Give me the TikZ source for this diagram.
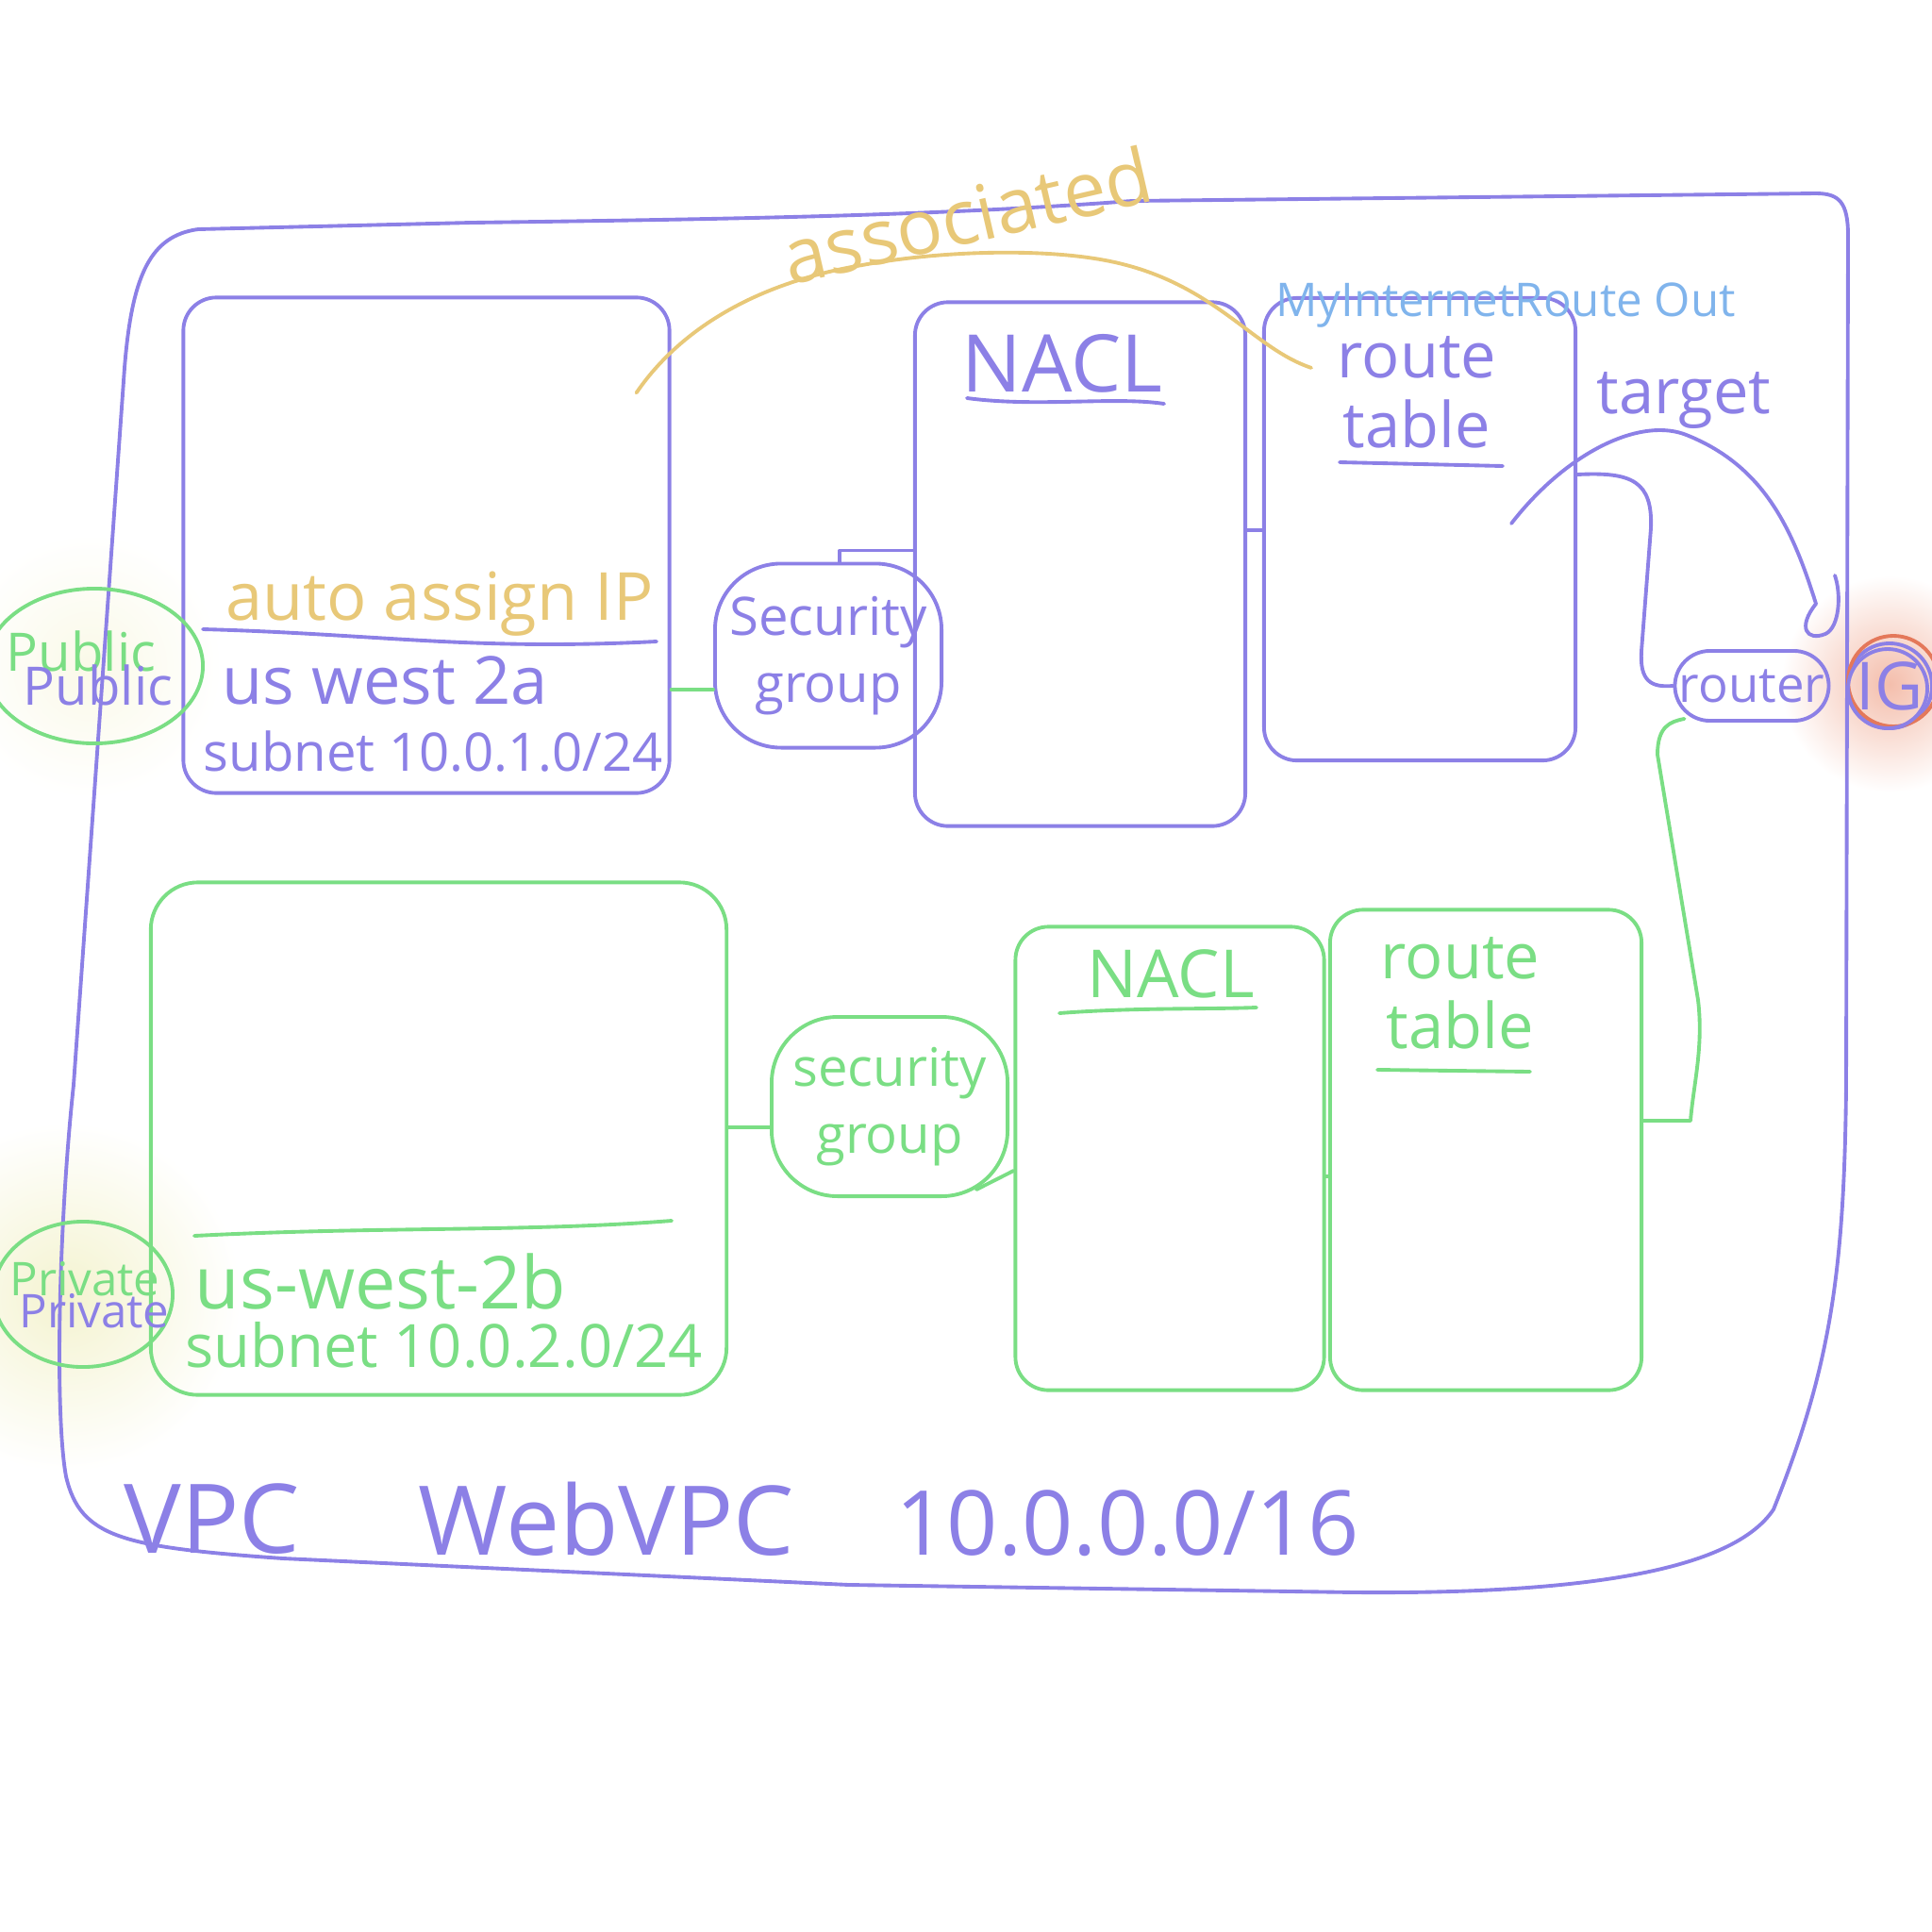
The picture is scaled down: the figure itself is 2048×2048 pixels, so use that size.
\documentclass[tikz,border=0pt]{standalone}
\usepackage{fontspec}
\setmainfont{Open Sans}
\usetikzlibrary{calc,shapes.geometric}

\definecolor{pen}{RGB}{140,128,230}
\definecolor{leaf}{RGB}{122,222,132}
\definecolor{sand}{RGB}{232,200,120}
\definecolor{sky}{RGB}{128,180,236}
\definecolor{ember}{RGB}{228,120,90}
\definecolor{emberglow}{RGB}{244,190,172}
\definecolor{ivory}{RGB}{244,243,208}
\definecolor{ivorylight}{RGB}{250,249,232}

\tikzset{
  ink/.style={line width=1.1pt, line cap=round, line join=round},
  pbox/.style={ink, draw=pen, rounded corners=0.35cm, inner sep=0pt},
  gbox/.style={ink, draw=leaf, rounded corners=0.35cm, inner sep=0pt},
  lbl/.style={inner sep=0pt, anchor=center},
  hw/.style={font=\fontsize{#1}{#1}\selectfont}
}

\begin{document}
\begin{tikzpicture}[x=0.01cm, y=-0.01cm]
\useasboundingbox (0,0) rectangle (2048,2048);

% soft glows behind the tags and the gateway
\shade[inner color=ivorylight, outer color=white] (95,706) circle (140);
\shade[inner color=ivory, outer color=white] (70,1375) circle (185);
\shade[inner color=emberglow, outer color=white] (2003,725) circle (115);

% VPC outline
\draw[ink, pen] (210,243) .. controls (160,250) and (140,290) .. (132,390)
  -- (78,1150) .. controls (62,1300) and (58,1500) .. (70,1565)
  .. controls (85,1630) and (130,1640) .. (300,1652) -- (900,1680) -- (1437,1688)
  .. controls (1700,1690) and (1840,1660) .. (1880,1600)
  .. controls (1940,1450) and (1955,1350) .. (1957,1150) -- (1959,250)
  .. controls (1959,215) and (1950,205) .. (1925,205) -- (1200,213)
  .. controls (1000,228) and (800,232) .. (500,236) -- cycle;

% VPC caption
\node[lbl, hw=29, text=pen] (vpcword) at (225,1610) {VPC};
\node[lbl, hw=29, text=pen] (vpcname) at (643,1610) {WebVPC};
\node[lbl, hw=27, text=pen] (vpccidr) at (1195,1615) {10.0.0.0/16};

% ---------- public subnet ----------
\node[pbox, minimum width=5.15cm, minimum height=5.25cm] (pubnet) at (452,578) {};
\draw[ink, pen] (215,667) .. controls (400,672) and (500,690) .. (696,680);
\node[lbl, hw=20, text=sand] (autoip) at (466,640) {auto assign IP};
\node[lbl, hw=20, text=pen, anchor=west] (zone1) at (235,721) {us west 2a};
\node[lbl, hw=16, text=pen, anchor=west] (cidr1) at (215,797) {subnet 10.0.1.0/24};

\node[ink, draw=leaf, ellipse, minimum width=2.3cm, minimum height=1.64cm, inner sep=0pt] (pubtag) at (100,706) {};
\node[lbl, hw=16, text=leaf] (pubtxtg) at (86,690) {Public};
\node[lbl, hw=16, text=pen] (pubtxtp) at (104,726) {Public};

\node[pbox, rounded corners=0.7cm, minimum width=2.4cm, minimum height=1.95cm,
      align=center, hw=16, text=pen] (sg1) at (878,695) {Security\\[4pt]group};

\node[pbox, minimum width=3.5cm, minimum height=5.55cm] (nacl1) at (1145,598) {};
\node[lbl, hw=24, text=pen] (nacl1t) at (1126,385) {NACL};
\draw[ink, pen] (1025,422) .. controls (1100,432) and (1180,420) .. (1234,428);

\node[pbox, minimum width=3.3cm, minimum height=4.9cm] (rt1) at (1505,561) {};
\node[lbl, hw=19, text=pen, align=center] (rt1t) at (1502,416) {route\\[2pt]table};
\draw[ink, pen] (1420,490) -- (1593,494);
\node[lbl, hw=14, text=sky] (rtname) at (1596,324) {MyInternetRoute Out};
\node[lbl, hw=19, text=pen] (tgt) at (1785,424) {target};

% router and internet gateway
\node[ink, draw=pen, rounded corners=0.37cm, minimum width=1.63cm, minimum height=0.74cm,
      inner sep=0pt, hw=15, text=pen] (router) at (1857,727) {router};
\node[ink, draw=pen, circle, minimum size=0.9cm, inner sep=0pt, hw=20, text=pen] (ig) at (2003,727) {IG};
\draw[ink, ember] ($(ig.center)+(4,-5)$) circle (48);
\draw[ink, pen] ($(ig.center)+(-2,3)$) circle (42);

% ---------- private subnet ----------
\node[gbox, rounded corners=0.5cm, minimum width=6.1cm, minimum height=5.43cm] (privnet) at (465,1207) {};
\draw[ink, leaf] (206,1310) .. controls (400,1300) and (560,1306) .. (712,1294);
\node[lbl, hw=22, text=leaf, anchor=west] (zone2) at (206,1358) {us-west-2b};
\node[lbl, hw=18, text=leaf, anchor=west] (cidr2) at (196,1426) {subnet 10.0.2.0/24};

\node[ink, draw=leaf, ellipse, minimum width=1.9cm, minimum height=1.54cm, inner sep=0pt] (privtag) at (88,1372) {};
\node[lbl, hw=14, text=leaf] (privtxtg) at (90,1356) {Private};
\node[lbl, hw=14, text=pen] (privtxtp) at (100,1390) {Private};

\node[gbox, rounded corners=0.7cm, minimum width=2.5cm, minimum height=1.9cm,
      align=center, hw=16, text=leaf] (sg2) at (943,1173) {security\\[4pt]group};

\node[gbox, minimum width=3.27cm, minimum height=4.91cm] (nacl2) at (1240,1228) {};
\node[lbl, hw=20, text=leaf] (nacl2t) at (1241,1032) {NACL};
\draw[ink, leaf] (1123,1074) .. controls (1200,1068) and (1280,1070) .. (1332,1068);

\node[gbox, minimum width=3.3cm, minimum height=5.09cm] (rt2) at (1575,1219) {};
\node[lbl, hw=19, text=leaf, align=center] (rt2t) at (1548,1053) {route\\[2pt]table};
\draw[ink, leaf] (1460,1134) -- (1622,1136);

% ---------- connectors ----------
\coordinate (pubout) at ($(pubnet.east)+(0,153)$);
\draw[ink, leaf] (pubout) -- (pubout -| sg1.west);

\coordinate (sg1out) at ($(sg1.north)+(12,0)$);
\coordinate (sg1hook) at ($(sg1out)+(0,-12)$);
\draw[ink, pen] (sg1out) -- (sg1hook) -- (sg1hook -| nacl1.west);

\coordinate (n1out) at ($(nacl1.east)+(0,-36)$);
\draw[ink, pen] (n1out) -- (n1out -| rt1.west);

\coordinate (rt1out) at ($(rt1.east)+(0,-58)$);
\draw[ink, pen] (rt1out) .. controls (1730,500) and (1752,510) .. (1750,560)
  -- (1740,690) .. controls (1738,722) and (1750,729) .. (router.west);

\coordinate (tgtstart) at ($(rt1.east)+(-70,-6)$);
\coordinate (tgtend) at ($(ig.center)+(-78,-87)$);
\draw[ink, pen] (tgtstart) .. controls (1660,480) and (1740,440) .. (1790,462)
  .. controls (1870,495) and (1900,560) .. (tgtend)
  .. controls (1905,665) and (1915,680) .. (1935,672)
  .. controls (1950,665) and (1952,630) .. (1945,610);

\coordinate (routerdown) at ($(router.south west)+(12,-4)$);
\coordinate (rt2in) at ($(rt2.east)+(0,-31)$);
\draw[ink, leaf] (routerdown) .. controls (1770,765) and (1757,770) .. (1757,800)
  -- (1800,1060) .. controls (1806,1110) and (1795,1150) .. (1792,1188) -- (rt2in);

\coordinate (privout) at ($(privnet.east)+(0,-12)$);
\draw[ink, leaf] (privout) -- (privout -| sg2.west);

\coordinate (sg2out) at ($(sg2.south east)+(-35,-9)$);
\draw[ink, leaf] (sg2out) -- ($(nacl2.west)+(0,13)$);

\coordinate (n2out) at ($(nacl2.east)+(0,19)$);
\draw[ink, leaf] (n2out) -- (n2out -| rt2.west);

% association between the public subnet and the route table
\coordinate (asA) at ($(pubnet.north east)+(-37,103)$);
\coordinate (asB) at ($(rt1.north west)+(52,76)$);
\draw[ink, sand] (asA) .. controls (720,350) and (800,300) .. (914,281)
  .. controls (1000,265) and (1120,262) .. (1190,280)
  .. controls (1290,305) and (1330,370) .. (asB);
\node[lbl, hw=23, text=sand, rotate=13] (assoc) at (1025,228) {associated};

\end{tikzpicture}
\end{document}
